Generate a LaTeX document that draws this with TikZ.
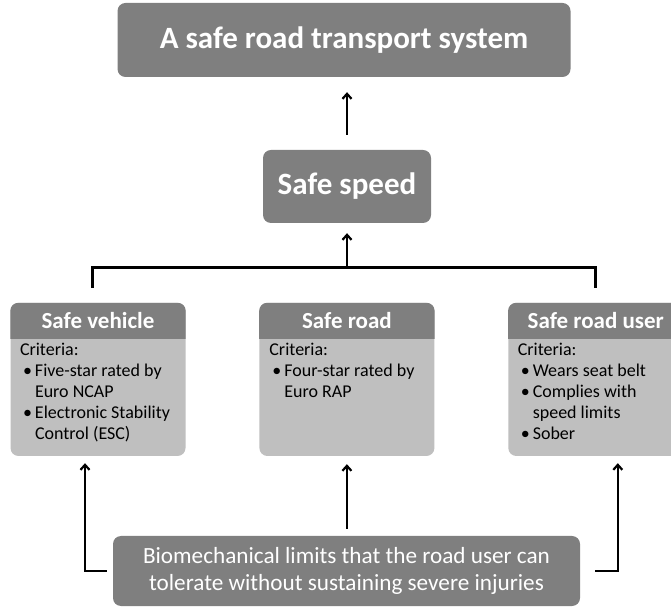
\documentclass[tikz,border=0pt]{standalone}
\usepackage{fontspec}
\setmainfont{Carlito}
\usepackage{tikz}
\usetikzlibrary{shapes, arrows.meta, positioning}

\definecolor{headgray}{HTML}{7F7F7F}
\definecolor{bodygray}{HTML}{BFBFBF}

\newcommand{\bul}{\makebox[15pt][l]{\hspace{3pt}\textbullet}}
\newcommand{\ind}{\hspace*{15pt}}

\begin{document}
\begin{tikzpicture}[x=1pt, y=1pt, node distance=73.5pt]

  % Define styles for the different boxes
  \tikzstyle{goal} = [fill=headgray, rounded corners=8pt, text=white, font=\fontsize{31}{37}\selectfont\bfseries]
  \tikzstyle{card} = [fill=bodygray, rounded corners=8pt, minimum width=175pt, minimum height=153pt]
  \tikzstyle{head} = [text=white, font=\fontsize{23}{28}\selectfont\bfseries]
  \tikzstyle{criteria} = [anchor=north west, align=left, inner sep=0pt, font=\fontsize{18}{21}\selectfont]
  \tikzstyle{limits} = [fill=headgray, rounded corners=8pt, text=white, align=center, minimum width=467pt, minimum height=70pt, font=\fontsize{23.2}{27}\selectfont]
  \tikzstyle{arrow} = [-{Straight Barb[length=5pt, width=9pt]}, line width=2.2pt]
  \tikzstyle{bus} = [line width=3pt]

  \useasboundingbox (0,0) rectangle (671,607);

  \node (system) [goal, minimum width=453pt, minimum height=74pt] at (344,567) {A safe road transport system};
  \node (speed) [goal, minimum width=168pt, minimum height=73pt] at (347,420.5) {Safe speed};

  \node (vehicle) [card] at (98,227.5) {};
  \node (road) [card, right=of vehicle] {};
  \node (user) [card, right=of road] {};

  % dark header strip on top of each card
  \foreach \c in {vehicle, road, user} {
    \begin{scope}
      \clip (\c.north west) rectangle ([yshift=-36pt]\c.north east);
      \fill[headgray, rounded corners=8pt] (\c.north west) rectangle (\c.south east);
    \end{scope}
  }

  \node (vehiclehead) [head] at ([yshift=-18pt]vehicle.north) {Safe vehicle};
  \node (roadhead) [head] at ([yshift=-18pt]road.north) {Safe road};
  \node (userhead) [head] at ([yshift=-18pt]user.north) {Safe road user};

  \node (vehiclecrit) [criteria] at ([xshift=9.5pt, yshift=-40.5pt]vehicle.north west) {Criteria:\\ \bul Five-star rated by\\ \ind Euro NCAP\\ \bul Electronic Stability\\ \ind Control (ESC)};
  \node (roadcrit) [criteria] at ([xshift=10pt, yshift=-40.5pt]road.north west) {Criteria:\\ \bul Four-star rated by\\ \ind Euro RAP};
  \node (usercrit) [criteria] at ([xshift=9.5pt, yshift=-40.5pt]user.north west) {Criteria:\\ \bul Wears seat belt\\ \bul Complies with\\ \ind speed limits\\ \bul Sober};

  \node (limits) [limits] at (346.5,36) {Biomechanical limits that the road user can\\ tolerate without sustaining severe injuries};

  \coordinate (busleft) at ([xshift=-6pt, yshift=35pt]vehicle.north);

  \draw[bus] ([yshift=-20pt]busleft) -- (busleft) -| ([yshift=15pt]user.north);
  \draw[arrow, shorten >=10pt] (speed.south |- busleft) -- (speed.south);
  \draw[arrow, shorten <=15pt, shorten >=15pt] (speed.north) -- (speed.north |- system.south);

  \draw[arrow] ([xshift=-6pt]limits.west) -| ([xshift=-13pt, yshift=-7pt]vehicle.south);
  \draw[arrow, shorten <=7pt, shorten >=8pt] (limits.north -| road.south) -- (road.south);
  \draw[arrow] ([xshift=15pt]limits.east) -| ([xshift=22pt, yshift=-7pt]user.south);

\end{tikzpicture}
\end{document}
